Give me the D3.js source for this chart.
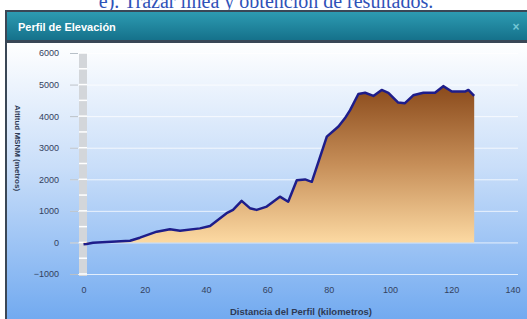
<!DOCTYPE html>
<html>
<head>
<meta charset="utf-8">
<script src="https://cdn.jsdelivr.net/npm/d3@7"></script>
<style>
body{margin:0;background:#fff;overflow:hidden;}
svg{display:block;}
</style>
</head>
<body>
<div id="perfil"></div>
<script>
// datos del perfil (km, metros)
const distancia=[0,1,3.1,15.2,18.4,23.9,28.2,31.5,38,41.3,46.7,48.8,51.6,54.3,56.5,59.8,64.1,66.8,69.6,72.3,74.5,79.4,83.2,85.3,87,89.7,91.9,94.6,97.3,99.5,102.7,104.9,107.6,110.9,114.7,117.4,120.2,124.5,125.6,127.5];
const altitud=[-60,-50,-10,55,150,340,415,370,445,520,925,1030,1315,1085,1030,1135,1450,1290,1970,1995,1920,3350,3670,3930,4190,4700,4740,4640,4830,4740,4430,4410,4660,4740,4740,4950,4780,4780,4830,4640];
const ticksY=[-1000,0,1000,2000,3000,4000,5000,6000];
const ticksX=[0,20,40,60,80,100,120,140];

const width=527, height=319;

const svg=d3.select("#perfil").append("svg")
.attr("width",width).attr("height",height);

const defs=svg.append("defs");

const fondo=defs.append("linearGradient").attr("id","fondo")
.attr("x1",0).attr("y1",0).attr("x2",0).attr("y2",1);
fondo.append("stop").attr("offset","0%").attr("stop-color","#ffffff");
fondo.append("stop").attr("offset","45%").attr("stop-color","#c9def9");
fondo.append("stop").attr("offset","100%").attr("stop-color","#72aaf0");

const barra=defs.append("linearGradient").attr("id","barra")
.attr("x1",0).attr("y1",0).attr("x2",0).attr("y2",1);
barra.append("stop").attr("offset","0%").attr("stop-color","#2d9bb2");
barra.append("stop").attr("offset","100%").attr("stop-color","#15718b");

// ESCALAS
const x=d3.scaleLinear().domain([0,140]).range([83.5,512.5]);
const y=d3.scaleLinear().domain([-1000,6000]).range([274,53]);

const relleno=defs.append("linearGradient").attr("id","relleno")
.attr("gradientUnits","userSpaceOnUse")
.attr("x1",0).attr("x2",0).attr("y1",y(4950)).attr("y2",y(0));
relleno.append("stop").attr("offset","0%").attr("stop-color","#8a4a1b");
relleno.append("stop").attr("offset","50%").attr("stop-color","#c68e58");
relleno.append("stop").attr("offset","100%").attr("stop-color","#fcd9a2");

const fuente="Liberation Sans, Arial, sans-serif";

// TITULO DEL DOCUMENTO (cortado arriba)
svg.append("text")
.attr("x",266).attr("y",8)
.attr("text-anchor","middle")
.style("font-family","Liberation Serif, DejaVu Serif, serif")
.style("font-size","20px")
.style("fill","#2f52b8")
.text("e). Trazar línea y obtención de resultados.");

// PANEL
svg.append("rect").attr("x",5).attr("y",10).attr("width",width-5).attr("height",height-10)
.attr("fill","#3a4756");
svg.append("rect").attr("x",7).attr("y",12).attr("width",width-7).attr("height",28)
.attr("fill","url(#barra)");
svg.append("rect").attr("x",7).attr("y",43).attr("width",width-7).attr("height",height-43)
.attr("fill","url(#fondo)");

svg.append("text")
.attr("x",18).attr("y",31)
.style("font-family",fuente)
.style("font-size","11px").style("font-weight","bold")
.style("fill","#ffffff")
.text("Perfil de Elevación");

svg.append("text")
.attr("x",516).attr("y",31).attr("text-anchor","middle")
.style("font-family",fuente)
.style("font-size","12px").style("font-weight","bold")
.style("fill","#72c6d6")
.text("×");

// LINEAS GUIA
svg.append("g")
.attr("transform","translate(70,0)")
.call(d3.axisRight(y).tickValues(ticksY).tickSize(448).tickFormat(""))
.call(g=>g.select(".domain").remove())
.call(g=>g.selectAll("line").attr("stroke","#ffffff").attr("stroke-opacity",0.75));

// BARRA GRIS DEL EJE Y
svg.append("rect")
.attr("x",79).attr("y",y(6000)).attr("width",8).attr("height",y(-1000)-y(6000)+2)
.attr("fill","#d3d6da");

svg.append("g")
.selectAll("line")
.data(d3.range(-1000,6001,500))
.enter().append("line")
.attr("x1",79).attr("x2",87)
.attr("y1",d=>y(d)).attr("y2",d=>y(d))
.attr("stroke","#ffffff").attr("stroke-width",1.5);

// EJE Y
svg.append("g")
.attr("transform","translate(78,0)")
.call(d3.axisLeft(y).tickValues(ticksY).tickSize(8).tickPadding(11).tickFormat(d3.format("d")))
.call(g=>g.select(".domain").remove())
.call(g=>g.selectAll("line").attr("stroke","#b8c0c8"))
.call(g=>g.selectAll("text")
.style("font-family",fuente)
.style("font-size","9px")
.style("fill","#33415e"));

// EJE X
svg.append("g")
.attr("transform","translate(0,275)")
.call(d3.axisBottom(x).tickValues(ticksX).tickSize(0).tickPadding(12).tickFormat(d3.format("d")))
.call(g=>g.select(".domain").remove())
.call(g=>g.selectAll("text")
.style("font-family",fuente)
.style("font-size","9px")
.style("fill","#33415e"));

// ETIQUETA X
svg.append("text")
.attr("x",301).attr("y",315)
.attr("text-anchor","middle")
.style("font-family",fuente)
.style("font-size","9.5px").style("font-weight","bold")
.style("fill","#2e3a55")
.text("Distancia del Perfil (kilometros)");

// ETIQUETA Y
svg.append("text")
.attr("transform","rotate(90)")
.attr("x",148).attr("y",-15)
.attr("text-anchor","middle")
.style("font-family",fuente)
.style("font-size","8px").style("font-weight","bold")
.style("fill","#2e3a55")
.text("Altitud MSNM (metros)");

// AREA + LINEA
const puntos=distancia.map((d,i)=>({km:d,m:altitud[i]}));

svg.append("path")
.datum(puntos)
.attr("fill","url(#relleno)")
.attr("d",d3.area().x(d=>x(d.km)).y0(y(0)).y1(d=>y(d.m)));

svg.append("path")
.datum(puntos)
.attr("fill","none")
.attr("stroke","#1e1d8a")
.attr("stroke-width",2.5)
.attr("stroke-linejoin","round")
.attr("d",d3.line().x(d=>x(d.km)).y(d=>y(d.m)));
</script>
</body>
</html>
